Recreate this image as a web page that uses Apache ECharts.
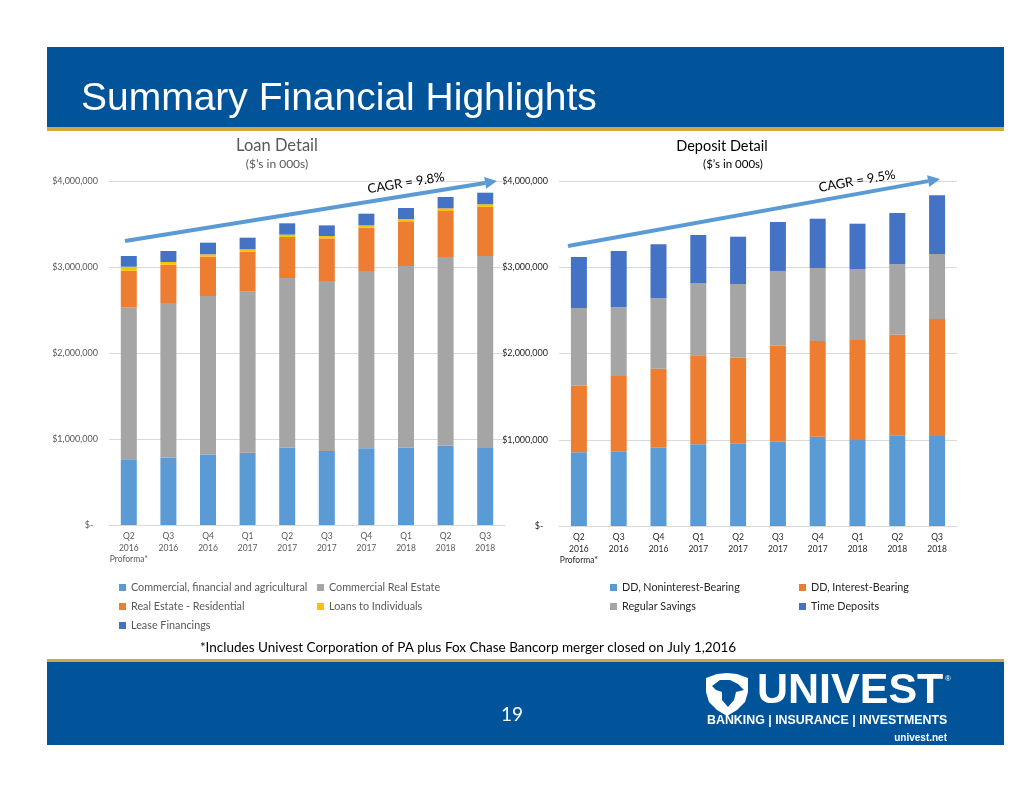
<!DOCTYPE html>
<html>
<head>
<meta charset="utf-8">
<script src="https://cdn.jsdelivr.net/npm/echarts@6/dist/echarts.min.js"></script>
<style>
html,body{margin:0;padding:0;background:#fff;}
#main{width:1024px;height:791px;}
</style>
</head>
<body>
<div id="main"></div>
<script>
// ---- Data ($ in 000s) ----
const categories = ['Q2\n2016\nProforma*','Q3\n2016','Q4\n2016','Q1\n2017','Q2\n2017','Q3\n2017','Q4\n2017','Q1\n2018','Q2\n2018','Q3\n2018'];

// Loan Detail
const loanCommercialFinAg   = [764000, 783000, 817000, 841000, 899000, 860000, 891000, 899000, 922000, 895000];
const loanCommercialRE      = [1763000,1798000,1846000,1876000,1973000,1977000,2062000,2113000,2194000,2233000];
const loanRealEstateRes     = [430000, 445000, 457000, 461000, 477000, 496000, 504000, 519000, 535000, 570000];
const loanIndividuals       = [46000, 32000, 28000, 28000, 27000, 27000, 27000, 27000, 31000, 31000];
const loanLeaseFinancings   = [125000, 128000, 135000, 135000, 132000, 124000, 136000, 128000, 132000, 135000];

// Deposit Detail
const depDDNonInterest      = [854000, 866000, 908000, 947000, 959000, 977000, 1035000, 997000, 1051000, 1043000];
const depDDInterest         = [773000, 873000, 916000, 1032000, 992000, 1113000, 1110000, 1160000, 1167000, 1357000];
const depRegularSavings     = [900000, 796000, 816000, 835000, 855000, 867000, 846000, 823000, 816000, 754000];
const depTimeDeposits       = [592000, 653000, 626000, 560000, 548000, 568000, 572000, 525000, 595000, 680000];

const yTicks = {min: 0, max: 4000000, interval: 1000000};

const loanCAGR = 'CAGR = 9.8%';
const depositCAGR = 'CAGR = 9.5%';

// ---- Styling ----
const C_LBLUE = '#5B9BD5', C_GRAY = '#A5A5A5', C_ORANGE = '#ED7D31', C_YELLOW = '#FFC000', C_DBLUE = '#4472C4';
const NAVY = '#02549A', GOLD = '#D2A83C';
const FONT = 'Lato, "Open Sans", sans-serif';

function yFmt(v){ return v === 0 ? '$-  ' : '$' + v.toLocaleString('en-US'); }

function arrowGraphics(x1,y1,x2,y2){
  const ang = Math.atan2(y2-y1, x2-x1);
  const L = 12, W = 6;
  const bx = x2 - L*Math.cos(ang), by = y2 - L*Math.sin(ang);
  const px = -Math.sin(ang), py = Math.cos(ang);
  return [
    {type:'line', shape:{x1:x1,y1:y1,x2:bx,y2:by}, style:{stroke:C_LBLUE, lineWidth:4}, z:50},
    {type:'polygon', shape:{points:[[x2,y2],[bx+px*W,by+py*W],[bx-px*W,by-py*W]]}, style:{fill:C_LBLUE}, z:50}
  ];
}

function legendItem(name, left, top, color){
  return {data:[name], left:left, top:top, orient:'horizontal', padding:0, icon:'rect',
    itemWidth:7, itemHeight:7, selectedMode:false,
    textStyle:{fontFamily:FONT, fontSize:10.8, color:color}};
}

function xAxisCfg(gi, color){
  return {type:'category', gridIndex:gi, data:categories,
    axisLine:{show:true, lineStyle:{color:'#D9D9D9', width:1}},
    axisTick:{show:false},
    axisLabel:{fontFamily:FONT, fontSize:8.5, color:color, lineHeight:11.3, margin:6, interval:0}};
}
function yAxisCfg(gi, color){
  return {type:'value', gridIndex:gi, min:yTicks.min, max:yTicks.max, interval:yTicks.interval,
    axisLine:{show:false}, axisTick:{show:false},
    splitLine:{lineStyle:{color:'#D9D9D9', width:1}},
    axisLabel:{fontFamily:FONT, fontSize:9, color:color, margin:11, formatter:yFmt}};
}
function bar(name, data, color, gi){
  return {name:name, type:'bar', stack:'s'+gi, xAxisIndex:gi, yAxisIndex:gi, data:data,
    barWidth:16, itemStyle:{color:color}, emphasis:{disabled:true}, animation:false};
}

const chart = echarts.init(document.getElementById('main'), null, {renderer:'canvas'});

const graphics = [
  {type:'rect', shape:{x:47,y:47,width:957,height:81}, style:{fill:NAVY}, z:1},
  {type:'rect', shape:{x:47,y:127,width:957,height:4}, style:{fill:GOLD}, z:1},
  {type:'text', x:81, y:99, style:{text:'Summary Financial Highlights', fill:'#fff',
     font:'39px "Liberation Sans", Arial, sans-serif', verticalAlign:'middle', align:'left'}, z:2},
  {type:'text', x:277, y:146, style:{text:'Loan Detail', fill:'#595959', font:'16.5px '+FONT, align:'center', verticalAlign:'middle'}},
  {type:'text', x:277, y:164, style:{text:'($’s in 000s)', fill:'#595959', font:'12px '+FONT, align:'center', verticalAlign:'middle'}},
  {type:'text', x:722, y:146, style:{text:'Deposit Detail', fill:'#000', font:'14.5px '+FONT, align:'center', verticalAlign:'middle'}},
  {type:'text', x:733, y:164, style:{text:'($’s in 000s)', fill:'#000', font:'11.5px '+FONT, align:'center', verticalAlign:'middle'}},
  {type:'text', x:406, y:183, rotation:0.16, style:{text:loanCAGR, fill:'#000', font:'13px '+FONT, align:'center', verticalAlign:'middle'}, z:51},
  {type:'text', x:857, y:181, rotation:0.175, style:{text:depositCAGR, fill:'#000', font:'13px '+FONT, align:'center', verticalAlign:'middle'}, z:51},
  {type:'text', x:468, y:648, style:{text:'*Includes Univest Corporation of PA plus Fox Chase Bancorp merger closed on July 1,2016', fill:'#000', font:'13.5px '+FONT, align:'center', verticalAlign:'middle'}},
  {type:'rect', shape:{x:47,y:659,width:957,height:4}, style:{fill:GOLD}, z:1},
  {type:'rect', shape:{x:47,y:662,width:957,height:83}, style:{fill:NAVY}, z:1},
  {type:'text', x:512, y:715, style:{text:'19', fill:'#fff', font:'19px '+FONT, align:'center', verticalAlign:'middle'}, z:2},
  // logo
  {type:'polygon', shape:{points:[[706,678],[717,674],[727,673],[737,674],[748,678],[748,692],[745,702],[737,710],[727,716],[717,710],[709,702],[706,692]]}, style:{fill:'#fff'}, z:2},
  {type:'polygon', shape:{points:[[712,686],[720,680],[730,680],[738,684],[744,690],[736,692],[734,700],[728,707],[722,700],[722,692],[716,690]]}, style:{fill:NAVY}, z:3},
  {type:'text', x:757, y:691, style:{text:'UNIVEST', fill:'#fff', font:'bold 43px "Liberation Sans", Arial, sans-serif', align:'left', verticalAlign:'middle'}, z:2},
  {type:'text', x:945, y:679, style:{text:'®', fill:'#fff', font:'8px "Liberation Sans", Arial, sans-serif', align:'left', verticalAlign:'middle'}, z:2},
  {type:'text', x:707, y:721, style:{text:'BANKING | INSURANCE | INVESTMENTS', fill:'#fff', font:'bold 12.4px "Liberation Sans", Arial, sans-serif', align:'left', verticalAlign:'middle'}, z:2},
  {type:'text', x:947, y:738, style:{text:'univest.net', fill:'#fff', font:'bold 10px "Liberation Sans", Arial, sans-serif', align:'right', verticalAlign:'middle'}, z:2}
].concat(arrowGraphics(125,241,497,181)).concat(arrowGraphics(568,246,940,179));

const option = {
  backgroundColor:'#fff',
  animation:false,
  grid:[
    {left:109, top:181, width:396, height:344},
    {left:559, top:181, width:398, height:345}
  ],
  xAxis:[xAxisCfg(0,'#595959'), xAxisCfg(1,'#262626')],
  yAxis:[yAxisCfg(0,'#595959'), yAxisCfg(1,'#262626')],
  legend:[
    legendItem('Commercial, financial and agricultural', 119, 582, '#595959'),
    legendItem('Commercial Real Estate', 317, 582, '#595959'),
    legendItem('Real Estate - Residential', 119, 601, '#595959'),
    legendItem('Loans to Individuals', 317, 601, '#595959'),
    legendItem('Lease Financings', 119, 620, '#595959'),
    legendItem('DD, Noninterest-Bearing', 610, 582, '#262626'),
    legendItem('DD, Interest-Bearing', 799, 582, '#262626'),
    legendItem('Regular Savings', 610, 601, '#262626'),
    legendItem('Time Deposits', 799, 601, '#262626')
  ],
  series:[
    bar('Commercial, financial and agricultural', loanCommercialFinAg, C_LBLUE, 0),
    bar('Commercial Real Estate', loanCommercialRE, C_GRAY, 0),
    bar('Real Estate - Residential', loanRealEstateRes, C_ORANGE, 0),
    bar('Loans to Individuals', loanIndividuals, C_YELLOW, 0),
    bar('Lease Financings', loanLeaseFinancings, C_DBLUE, 0),
    bar('DD, Noninterest-Bearing', depDDNonInterest, C_LBLUE, 1),
    bar('DD, Interest-Bearing', depDDInterest, C_ORANGE, 1),
    bar('Regular Savings', depRegularSavings, C_GRAY, 1),
    bar('Time Deposits', depTimeDeposits, C_DBLUE, 1)
  ],
  graphic:graphics
};
chart.setOption(option);
</script>
</body>
</html>
